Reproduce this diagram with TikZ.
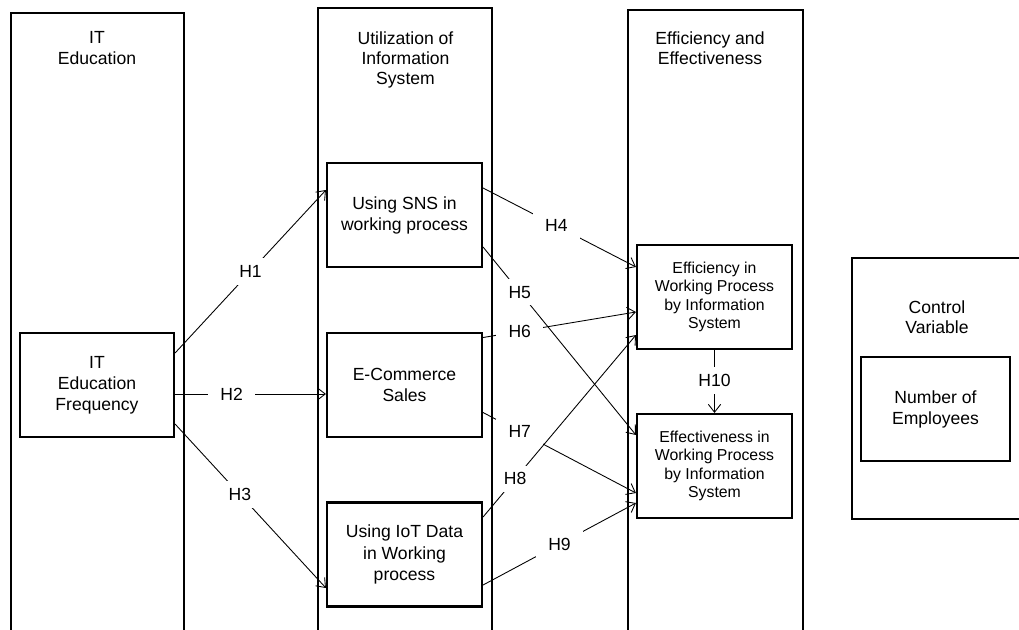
\documentclass[tikz,border=0pt]{standalone}
\usepackage{fontspec}
\setmainfont{Liberation Sans}
\usetikzlibrary{arrows.meta}

\tikzset{
	colbox/.style={draw, line width=1.2pt, anchor=north west},
	coltitle/.style={align=center, font=\fontsize{10}{11.5}\selectfont},
	varbox/.style={draw, line width=1.2pt, minimum width=3.1cm, minimum height=2.08cm, align=center, font=\fontsize{10}{12}\selectfont},
	effbox/.style={varbox, font=\fontsize{9}{10.4}\selectfont},
	hyp/.style={-{Straight Barb[length=4.5pt,width=7pt]}, line width=0.5pt},
	hlab/.style={fill=white, inner xsep=7pt, inner ysep=4pt, font=\fontsize{10}{12}\selectfont}
}

\begin{document}
\begin{tikzpicture}

		\path [use as bounding box, clip] (0,0) rectangle (20.38,-12.58);

		\node [coltitle] (itt) at (1.94,-0.96) {IT\\Education};
		\node [coltitle] (uist) at (8.11,-1.2) {Utilization of\\Information\\System};
		\node [coltitle] (eet) at (14.2,-0.97) {Efficiency and\\Effectiveness};
		\node [coltitle] (ctrlt) at (18.74,-6.34) {Control\\Variable};

		% variables
		\node [varbox, minimum width=3.08cm] (itfreq) at (1.94,-7.7) {IT\\Education\\Frequency};
		\node [varbox] (sns) at (8.09,-4.3) {Using SNS in\\working process};
		\node [varbox] (ecom) at (8.09,-7.7) {E-Commerce\\Sales};
		\node [varbox] (iot) at (8.09,-11.09) {Using IoT Data\\in Working\\process};
		\node [effbox] (effic) at (14.29,-5.94) {Efficiency in\\Working Process\\by Information\\System};
		\node [effbox] (effec) at (14.29,-9.32) {Effectiveness in\\Working Process\\by Information\\System};
		\node [varbox, minimum width=2.98cm] (empl) at (18.71,-8.18) {Number of\\Employees};

		% hypotheses
		\draw [hyp] ([yshift=0.64cm]itfreq.east) -- node [hlab, pos=0.5] {H1} ([yshift=0.5cm]sns.west);
		\draw [hyp] ([yshift=-0.18cm]itfreq.east) -- node [hlab, pos=0.375] {H2} ([yshift=-0.18cm]ecom.west);
		\draw [hyp] ([yshift=-0.78cm]itfreq.east) -- node [hlab, pos=0.43] {H3} ([yshift=-0.67cm]iot.west);
		\draw [hyp] ([yshift=0.54cm]sns.east) -- node [hlab, pos=0.48] {H4} ([yshift=0.6cm]effic.west);
		\draw [hyp] ([yshift=0.95cm]ecom.east) -- node [hlab, pos=0.24] {H6} ([yshift=-0.3cm]effic.west);
		\draw [hyp] ([yshift=-0.64cm]sns.east) -- node [hlab, pos=0.24] {H5} ([yshift=0.62cm]effec.west);
		\draw [hyp] ([yshift=-0.55cm]ecom.east) -- node [hlab, pos=0.24] {H7} ([yshift=-0.54cm]effec.west);
		\draw [hyp] ([yshift=0.75cm]iot.east) -- node [hlab, pos=0.21] {H8} ([yshift=-0.76cm]effic.west);
		\draw [hyp] ([yshift=-0.61cm]iot.east) -- node [hlab, pos=0.5] {H9} ([yshift=-0.74cm]effec.west);
		\draw [hyp] (effic.south) -- node [hlab, pos=0.48] {H10} (effec.north);

		% columns
		\node [colbox, minimum width=3.46cm, minimum height=13cm] (itcol) at (0.2,-0.24) {};
		\node [colbox, minimum width=3.48cm, minimum height=13cm] (uiscol) at (6.34,-0.14) {};
		\node [colbox, minimum width=3.5cm, minimum height=13cm] (eecol) at (12.54,-0.18) {};
		\node [colbox, minimum width=4cm, minimum height=5.22cm] (ctrlcol) at (17.02,-5.14) {};

\end{tikzpicture}
\end{document}
